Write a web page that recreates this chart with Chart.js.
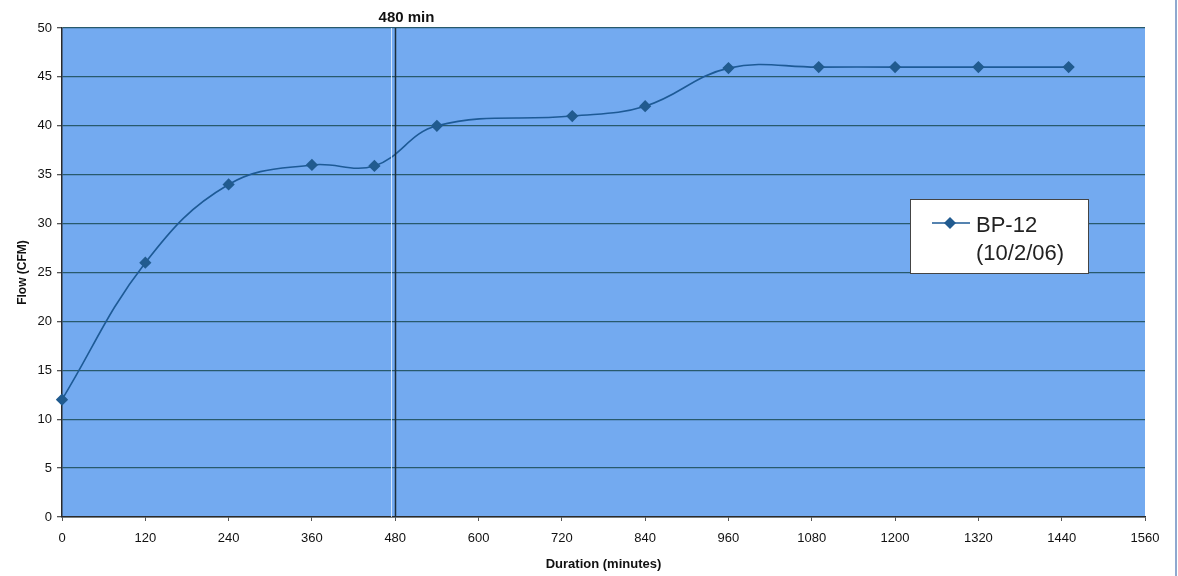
<!DOCTYPE html>
<html>
<head>
<meta charset="utf-8">
<script src="https://cdn.jsdelivr.net/npm/chart.js@4.4.1/dist/chart.umd.min.js"></script>
<style>
  html, body { margin: 0; padding: 0; background: #fff; }
  #wrap { position: relative; width: 1178px; height: 576px; overflow: hidden; }
  #edge { position: absolute; right: 1px; top: 0; width: 2px; height: 576px; background: #8fa9cf; }
</style>
</head>
<body>
<div id="wrap">
  <canvas id="flowChart" width="1178" height="576"></canvas>
  <div id="edge"></div>
</div>
<script>
// flow readings for BP-12
const durations = [0, 120, 240, 360, 450, 540, 735, 840, 960, 1090, 1200, 1320, 1450];
const flowCfm = [12, 26, 34, 36, 35.9, 40, 41, 42, 45.9, 46, 46, 46, 46];
const seriesLabel = ['BP-12', '(10/2/06)'];

const xTicks = [0, 120, 240, 360, 480, 600, 720, 840, 960, 1080, 1200, 1320, 1440, 1560];
const yTicks = [0, 5, 10, 15, 20, 25, 30, 35, 40, 45, 50];

const markerMinute = 480;
const markerText = '480 min';

const FONT = "'Liberation Sans', Arial, sans-serif";
const LINE_BLUE = '#1d5a96';
const PLOT_BG = '#73aaf0';
const GRID = '#285a6c';

const plotBackground = {
    id: 'plotBackground',
    beforeDraw(chart) {
        const { ctx, chartArea: a } = chart;
        ctx.save();
        ctx.fillStyle = PLOT_BG;
        ctx.fillRect(a.left, a.top, a.right - a.left, a.bottom - a.top);
        ctx.restore();
    }
};

// vertical reference line with its caption
const markerLine = {
    id: 'markerLine',
    afterDatasetsDraw(chart) {
        const { ctx, chartArea: a, scales } = chart;
        const px = Math.round(scales.x.getPixelForValue(markerMinute)) + 0.5;
        ctx.save();
        ctx.strokeStyle = 'rgba(235,245,255,0.8)';
        ctx.lineWidth = 1;
        ctx.beginPath();
        ctx.moveTo(px - 4, a.top);
        ctx.lineTo(px - 4, a.bottom);
        ctx.stroke();
        ctx.strokeStyle = '#1c2f3a';
        ctx.lineWidth = 1.5;
        ctx.beginPath();
        ctx.moveTo(px, a.top);
        ctx.lineTo(px, a.bottom);
        ctx.stroke();
        ctx.fillStyle = '#111';
        ctx.font = 'bold 15px ' + FONT;
        ctx.textAlign = 'center';
        ctx.textBaseline = 'middle';
        ctx.fillText(markerText, px + 11, 18);
        ctx.restore();
    }
};

// boxed legend sitting inside the plot
const boxLegend = {
    id: 'boxLegend',
    afterDraw(chart) {
        const { ctx } = chart;
        const ds = chart.data.datasets[0];
        const bx = 910, by = 199, bw = 178, bh = 74;
        ctx.save();
        ctx.fillStyle = '#fff';
        ctx.fillRect(bx, by, bw, bh);
        ctx.strokeStyle = '#444';
        ctx.lineWidth = 1;
        ctx.strokeRect(bx + 0.5, by + 0.5, bw, bh);

        const ly = 223;
        ctx.strokeStyle = ds.borderColor;
        ctx.lineWidth = 1.5;
        ctx.beginPath();
        ctx.moveTo(932, ly);
        ctx.lineTo(970, ly);
        ctx.stroke();
        ctx.fillStyle = ds.pointBackgroundColor;
        ctx.beginPath();
        ctx.moveTo(950, ly - 6);
        ctx.lineTo(956, ly);
        ctx.lineTo(950, ly + 6);
        ctx.lineTo(944, ly);
        ctx.closePath();
        ctx.fill();

        ctx.fillStyle = '#222';
        ctx.font = '22px ' + FONT;
        ctx.textAlign = 'left';
        ctx.textBaseline = 'middle';
        ds.label.forEach((line, i) => ctx.fillText(line, 976, 226 + i * 28));
        ctx.restore();
    }
};

new Chart(document.getElementById('flowChart'), {
    type: 'line',
    data: {
        datasets: [{
            label: seriesLabel,
            data: durations.map((d, i) => ({ x: d, y: flowCfm[i] })),
            borderColor: LINE_BLUE,
            borderWidth: 1.6,
            tension: 0.4,
            fill: false,
            clip: false,
            pointStyle: 'rectRot',
            pointRadius: 5,
            pointBackgroundColor: '#215b8f',
            pointBorderColor: '#215b8f'
        }]
    },
    options: {
        responsive: false,
        devicePixelRatio: 1,
        animation: false,
        layout: { padding: { top: 28, right: 33, left: 0, bottom: 0 } },
        plugins: { legend: { display: false }, tooltip: { enabled: false } },
        scales: {
            x: {
                type: 'linear',
                min: 0, max: 1560,
                afterBuildTicks: (s) => { s.ticks = xTicks.map(v => ({ value: v })); },
                afterFit: (s) => { s.height = 59; },
                grid: { drawOnChartArea: false, drawTicks: true, tickLength: 4, color: '#555' },
                border: { display: true, color: '#2a2a2a', width: 1.5 },
                ticks: {
                    color: '#111', font: { family: FONT, size: 13 }, padding: 10, maxRotation: 0,
                    callback: (v) => String(v)
                },
                title: {
                    display: true, text: 'Duration (minutes)', color: '#111',
                    font: { family: FONT, size: 13, weight: 'bold' }, padding: { top: 0, bottom: 4 }
                }
            },
            y: {
                min: 0, max: 50,
                afterBuildTicks: (s) => { s.ticks = yTicks.map(v => ({ value: v })); },
                afterFit: (s) => { s.width = 62; },
                grid: { color: GRID, lineWidth: 1.3, tickLength: 5, tickColor: '#555' },
                border: { display: true, color: '#2a2a2a', width: 1.5 },
                ticks: { color: '#111', font: { family: FONT, size: 13 }, padding: 5, callback: (v) => String(v) },
                title: {
                    display: true, text: 'Flow (CFM)', color: '#111',
                    font: { family: FONT, size: 12, weight: 'bold' }, padding: { top: 15, bottom: 0 }
                }
            }
        }
    },
    plugins: [plotBackground, markerLine, boxLegend]
});
</script>
</body>
</html>
